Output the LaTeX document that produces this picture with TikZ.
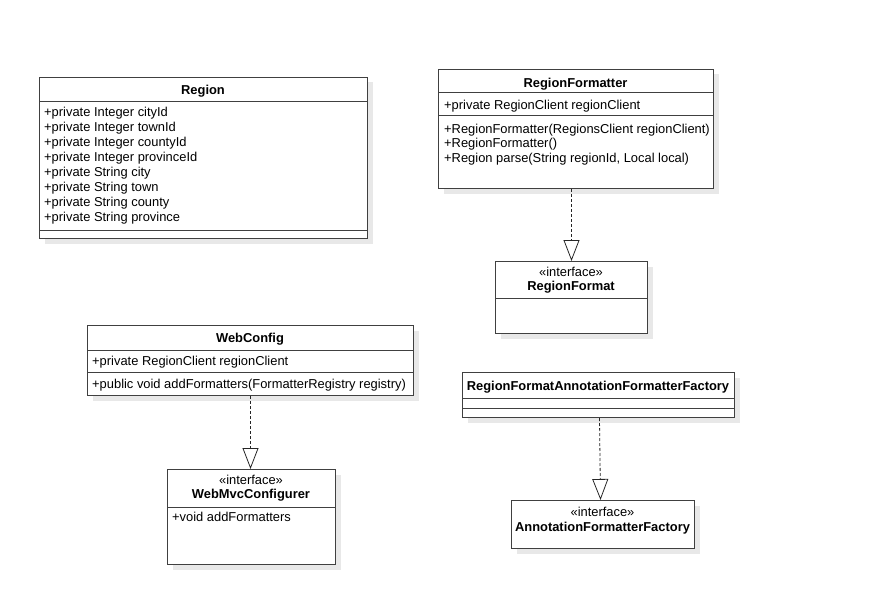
\documentclass[tikz,border=0pt]{standalone}
\usepackage{fontspec}
\setmainfont{Liberation Sans}
\usetikzlibrary{arrows.meta,shadows}
\begin{document}
\begin{tikzpicture}[x=1pt,y=-1pt,
  font=\fontsize{12.9}{15}\selectfont,
  umlbox/.style={draw=black!75, line width=1pt, fill=white, inner sep=0pt, anchor=north west,
     drop shadow={shadow xshift=5pt, shadow yshift=-5pt, fill=black!9, opacity=1}},
  sepline/.style={draw=black!75, line width=1pt},
  txt/.style={anchor=base west, inner sep=0pt},
  ttl/.style={anchor=base, inner sep=0pt, font=\fontsize{12.9}{15}\selectfont\bfseries},
  ster/.style={anchor=base, inner sep=0pt},
  impl/.style={densely dashed, draw=black!85, line width=0.8pt,
     -{Triangle[open, length=21pt, width=16pt, fill=white]}}
]
\useasboundingbox (0,0) rectangle (880,607);

% Region
\node[umlbox, minimum width=328pt, minimum height=161pt] (region) at (39,77) {};
\draw[sepline] (39,102) -- (367,102);
\draw[sepline] (39,230) -- (367,230);
\node[ttl] (regionT) at (203,94.3) {Region};
\node[txt] (r1) at (44,116.3) {+private Integer cityId};
\node[txt] (r2) at (44,131.3) {+private Integer townId};
\node[txt] (r3) at (44,146.3) {+private Integer countyId};
\node[txt] (r4) at (44,161.3) {+private Integer provinceId};
\node[txt] (r5) at (44,176.3) {+private String city};
\node[txt] (r6) at (44,191.3) {+private String town};
\node[txt] (r7) at (44,206.3) {+private String county};
\node[txt] (r8) at (44,221.3) {+private String province};

% RegionFormatter
\node[umlbox, minimum width=275pt, minimum height=119pt] (rf) at (438,69) {};
\draw[sepline] (438,93) -- (713,93);
\draw[sepline] (438,116) -- (713,116);
\node[ttl] (rfT) at (575.5,87.3) {RegionFormatter};
\node[txt] (rf1) at (444,110) {+private RegionClient regionClient};
\node[txt] (rf2) at (444,133) {+RegionFormatter(RegionsClient regionClient)};
\node[txt] (rf3) at (444,147.5) {+RegionFormatter()};
\node[txt] (rf4) at (444,162) {+Region parse(String regionId, Local local)};

% RegionFormat
\node[umlbox, minimum width=152pt, minimum height=72pt] (rfmt) at (495,261) {};
\draw[sepline] (495,298) -- (647,298);
\node[ster] (rfmtS) at (571,276) {«interface»};
\node[ttl] (rfmtT) at (571,290.5) {RegionFormat};

% WebConfig
\node[umlbox, minimum width=326pt, minimum height=70pt] (wc) at (87,325) {};
\draw[sepline] (87,350) -- (413,350);
\draw[sepline] (87,372) -- (413,372);
\node[ttl] (wcT) at (250,342.3) {WebConfig};
\node[txt] (wc1) at (92,365) {+private RegionClient regionClient};
\node[txt] (wc2) at (92,388.3) {+public void addFormatters(FormatterRegistry registry)};

% WebMvcConfigurer
\node[umlbox, minimum width=168pt, minimum height=95pt] (wmc) at (167,469) {};
\draw[sepline] (167,507) -- (335,507);
\node[ster] (wmcS) at (251,484.5) {«interface»};
\node[ttl] (wmcT) at (251,498.5) {WebMvcConfigurer};
\node[txt] (wmc1) at (172,521) {+void addFormatters};

% RegionFormatAnnotationFormatterFactory
\node[umlbox, minimum width=272pt, minimum height=45pt] (rfaff) at (462,372) {};
\draw[sepline] (462,398) -- (734,398);
\draw[sepline] (462,408) -- (734,408);
\node[ttl] (rfaffT) at (598,390.3) {RegionFormatAnnotationFormatterFactory};

% AnnotationFormatterFactory
\node[umlbox, minimum width=183pt, minimum height=48pt] (aff) at (511,500) {};
\node[ster] (affS) at (602.5,516) {«interface»};
\node[ttl] (affT) at (602.5,531) {AnnotationFormatterFactory};

% Realizations
\draw[impl] (rf.south -| rfmt.north) -- (rfmt.north);
\draw[impl] (wc.south) -- (wc.south |- wmc.north);
\draw[impl] ([xshift=1pt]rfaff.south) -- ([xshift=-2.5pt]aff.north);
\end{tikzpicture}
\end{document}
